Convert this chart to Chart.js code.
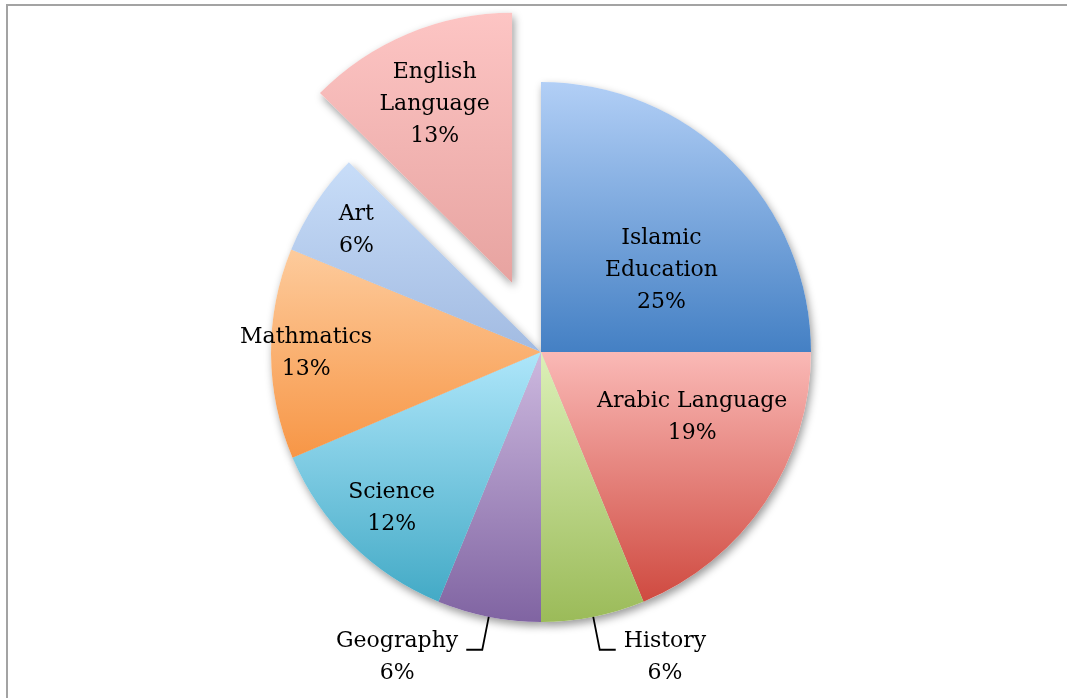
<!DOCTYPE html>
<html>
<head>
<meta charset="utf-8">
<script src="https://cdn.jsdelivr.net/npm/chart.js@4.4.1/dist/chart.umd.min.js"></script>
<style>
html,body{margin:0;padding:0;background:#fff;overflow:hidden}
#wrap{position:relative;width:1067px;height:698px}
#frame{position:absolute;left:6px;top:4px;right:0;bottom:0;border-left:2px solid #a3a3a3;border-top:2px solid #a3a3a3;pointer-events:none}
</style>
</head>
<body>
<div id="wrap"><canvas id="chartPie"></canvas><div id="frame"></div></div>
<script>
// ─── DATA ───────────────────────────────────────────────────────────
const CATEGORIES = ['Islamic Education','Arabic Language','History','Geography','Science','Mathmatics','Art','English Language'];
const VALUES = [25, 18.8, 6.2, 6.2, 12.4, 12.6, 6.2, 12.6];

// ─── STYLE ──────────────────────────────────────────────────────────
const COLOR_TOP    = ['#b2cff6','#fab9b6','#dcf0b8','#cdb9df','#aee6fa','#fdcb9c','#c8ddf8','#fdc5c4'];
const COLOR_BOTTOM = ['#4480c4','#cf4a40','#9bbb59','#8064a2','#43aac6','#f79646','#a2bbe2','#e7a3a0'];
const RADIUS = 270;
const EXPLODED = 7, EXPLODE_PX = 75;
const WRAPPED = [0, 7];            // labels split onto two lines
const OUTSIDE = [2, 3];            // labels with leader lines
const LABEL_R    = [0.54, 0.61, 0, 0, 0.80, 0.87, 0.82, 0.72];
const LABEL_TURN = [10.7, -10.5, 0, 0, -0.9, 0, 0, -0.8];   // degrees off the mid angle
const FONT = '22px "DejaVu Serif"', LINE_H = 32;

const total = VALUES.reduce((s,v)=>s+v,0);

function sliceGradient(c){
  const chart=c.chart, area=chart.chartArea, i=c.dataIndex;
  if(!area) return COLOR_BOTTOM[i];
  let a0=-Math.PI/2;
  for(let k=0;k<i;k++) a0+=VALUES[k]/total*2*Math.PI;
  const a1=a0+VALUES[i]/total*2*Math.PI;
  let cy=(area.top+area.bottom)/2;
  if(i===EXPLODED) cy+=Math.sin((a0+a1)/2)*EXPLODE_PX;
  const ys=[cy, cy+Math.sin(a0)*RADIUS, cy+Math.sin(a1)*RADIUS];
  [Math.PI/2, -Math.PI/2, 3*Math.PI/2].forEach(t=>{ if(t>a0&&t<a1) ys.push(cy+Math.sin(t)*RADIUS); });
  const g=chart.ctx.createLinearGradient(0,Math.min(...ys),0,Math.max(...ys));
  g.addColorStop(0,COLOR_TOP[i]);
  g.addColorStop(1,COLOR_BOTTOM[i]);
  return g;
}

// pull one slice out of the pie
const explodePlugin = {
  id:'explode',
  afterDatasetUpdate(chart,args){
    const arc=args.meta.data[EXPLODED];
    if(!arc) return;
    const mid=(arc.startAngle+arc.endAngle)/2;
    arc.x+=Math.cos(mid)*EXPLODE_PX;
    arc.y+=Math.sin(mid)*EXPLODE_PX;
  }
};

// soft drop shadow under the slices
const shadowPlugin = {
  id:'pieShadow',
  beforeDatasetsDraw(chart){
    const ctx=chart.ctx;
    chart.getDatasetMeta(0).data.forEach(arc=>{
      ctx.save();
      ctx.shadowColor='rgba(0,0,0,0.4)';
      ctx.shadowBlur=9; ctx.shadowOffsetX=2; ctx.shadowOffsetY=4;
      ctx.beginPath();
      ctx.moveTo(arc.x,arc.y);
      ctx.arc(arc.x,arc.y,arc.outerRadius,arc.startAngle,arc.endAngle);
      ctx.closePath();
      ctx.fillStyle='#fff';
      ctx.fill();
      ctx.restore();
    });
  }
};

// slice labels: name + percent
const labelPlugin = {
  id:'sliceLabels',
  afterDatasetsDraw(chart){
    const ctx=chart.ctx;
    ctx.save();
    ctx.font=FONT; ctx.fillStyle='#000'; ctx.textBaseline='middle'; ctx.textAlign='center';
    chart.getDatasetMeta(0).data.forEach((arc,i)=>{
      const name=CATEGORIES[i];
      const lines=WRAPPED.includes(i)?name.split(' '):[name];
      lines.push(Math.round(VALUES[i]/total*100)+'%');
      const mid=(arc.startAngle+arc.endAngle)/2;
      if(OUTSIDE.includes(i)){
        const r=arc.outerRadius;
        const ex=arc.x+Math.cos(mid)*r, ey=arc.y+Math.sin(mid)*r;
        const bx=arc.x+Math.cos(mid)*r*1.124, by=arc.y+Math.sin(mid)*r*1.124;
        const dir=Math.cos(mid)>=0?1:-1;
        const hx=bx+dir*16;
        ctx.beginPath();
        ctx.moveTo(ex,ey); ctx.lineTo(bx,by); ctx.lineTo(hx,by);
        ctx.strokeStyle='#000'; ctx.lineWidth=1.8; ctx.stroke();
        const w=Math.max(...lines.map(t=>ctx.measureText(t).width));
        const cx=hx+dir*(8+w/2);
        lines.forEach((t,k)=>ctx.fillText(t,cx,by-8+k*LINE_H));
      } else {
        const a=mid+LABEL_TURN[i]*Math.PI/180;
        const cx=arc.x+Math.cos(a)*arc.outerRadius*LABEL_R[i];
        const cy=arc.y+Math.sin(a)*arc.outerRadius*LABEL_R[i];
        const y0=cy-(lines.length-1)*LINE_H/2;
        lines.forEach((t,k)=>ctx.fillText(t,cx,y0+k*LINE_H));
      }
    });
    ctx.restore();
  }
};

new Chart(document.getElementById('chartPie'),{
  type:'pie',
  data:{labels:CATEGORIES,datasets:[{data:VALUES,backgroundColor:sliceGradient,borderWidth:0,radius:RADIUS}]},
  options:{
    responsive:true,maintainAspectRatio:false,animation:false,
    layout:{padding:{left:15,top:6,right:0,bottom:0}},
    plugins:{legend:{display:false},tooltip:{enabled:false}}
  },
  plugins:[explodePlugin,shadowPlugin,labelPlugin]
});
</script>
</body>
</html>
